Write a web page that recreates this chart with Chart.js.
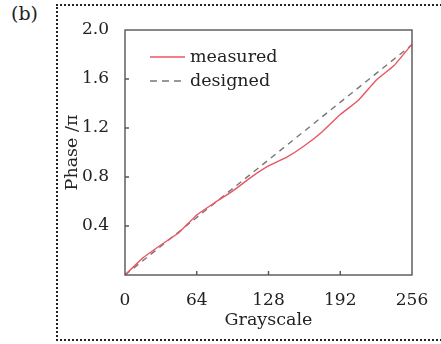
<!DOCTYPE html>
<html>
<head>
<meta charset="utf-8">
<script src="https://cdn.jsdelivr.net/npm/chart.js@4.4.1/dist/chart.umd.min.js"></script>
<style>
  html, body { margin: 0; padding: 0; background: #fff; overflow: hidden; }
  #wrap { position: relative; width: 441px; height: 344px; }
  #frame { position: absolute; left: 56px; top: 4px; width: 420px; height: 333px;
           border-top: 2px dotted #222; border-left: 2px dotted #222; border-bottom: 2px dotted #222; }
  #tag { position: absolute; left: 11px; top: 2px; font: 19px "DejaVu Serif", serif; color: #222; }
  canvas { position: absolute; left: 0; top: 0; }
</style>
</head>
<body>
<div id="wrap">
  <div id="frame"></div>
  <div id="tag">(b)</div>
  <canvas id="c" width="441" height="344"></canvas>
</div>
<script>
// ---- data ----
const grayscale = [0, 16, 32, 48, 64, 80, 96, 112, 128, 144, 160, 176, 192, 208, 224, 240, 256];
const measured  = [0, 0.14, 0.245, 0.345, 0.49, 0.59, 0.685, 0.795, 0.89, 0.96, 1.055, 1.17, 1.31, 1.425, 1.59, 1.71, 1.885];
const designedX = [0, 256];
const designed  = [0, 1.88];
const xTicks = [0, 64, 128, 192, 256];
const yTicks = [0.4, 0.8, 1.2, 1.6, 2.0];
const seriesNames = ['measured', 'designed'];
const axisTitles = { x: 'Grayscale', y: 'Phase /\u03c0' };

const FONT = '"DejaVu Serif", serif';
const TXT = '#222';
const AXIS = '#555';

const frameBox = {
  id: 'frameBox',
  afterDraw(chart) {
    const { ctx, chartArea: a, scales } = chart;
    ctx.save();
    ctx.strokeStyle = AXIS;
    ctx.lineWidth = 1.4;
    ctx.strokeRect(a.left, a.top, a.right - a.left, a.bottom - a.top);
    // inward ticks
    ctx.beginPath();
    xTicks.forEach(v => {
      if (v === 0 || v === 256) return;
      const px = scales.x.getPixelForValue(v);
      ctx.moveTo(px, a.bottom); ctx.lineTo(px, a.bottom - 4);
    });
    yTicks.forEach(v => {
      if (v >= 2.0) return;
      const py = scales.y.getPixelForValue(v);
      ctx.moveTo(a.left, py); ctx.lineTo(a.left + 4, py);
    });
    ctx.stroke();
    // legend inside plot
    const ds = chart.data.datasets;
    const lx = a.left + 25, ly0 = a.top + 27, gap = 24;
    ctx.font = '17.5px ' + FONT;
    ctx.textBaseline = 'middle';
    ds.forEach((d, i) => {
      const y = ly0 + i * gap;
      ctx.beginPath();
      ctx.strokeStyle = d.borderColor;
      ctx.lineWidth = d.borderWidth;
      ctx.setLineDash(d.borderDash ? [7, 5] : []);
      ctx.moveTo(lx, y); ctx.lineTo(lx + 35, y);
      ctx.stroke();
      ctx.setLineDash([]);
      ctx.fillStyle = TXT;
      ctx.fillText(d.label, lx + 40, y);
    });
    ctx.restore();
  }
};

new Chart(document.getElementById('c'), {
  type: 'scatter',
  data: {
    datasets: [
      {
        label: seriesNames[0],
        data: grayscale.map((g, i) => ({ x: g, y: measured[i] })),
        showLine: true, borderColor: '#ea5560', borderWidth: 1.4,
        pointRadius: 0, tension: 0.1
      },
      {
        label: seriesNames[1],
        data: designedX.map((g, i) => ({ x: g, y: designed[i] })),
        showLine: true, borderColor: '#777', borderWidth: 1.4, borderDash: [6, 5],
        pointRadius: 0
      }
    ]
  },
  options: {
    responsive: false,
    animation: false,
    devicePixelRatio: 1,
    layout: { padding: { top: 30, right: 29, left: 0, bottom: 0 } },
    plugins: { legend: { display: false }, tooltip: { enabled: false } },
    scales: {
      x: {
        type: 'linear', min: 0, max: 256,
        afterBuildTicks(s) { s.ticks = xTicks.map(v => ({ value: v })); },
        afterFit(s) { s.height = 69; },
        grid: { display: false },
        border: { display: false },
        ticks: { color: TXT, font: { family: FONT, size: 17 }, padding: 7, maxRotation: 0,
                 callback: v => String(v) },
        title: { display: true, text: axisTitles.x, color: TXT,
                 font: { family: FONT, size: 17.5 }, padding: { top: 0, bottom: 13 } }
      },
      y: {
        type: 'linear', min: 0, max: 2.0,
        afterBuildTicks(s) { s.ticks = yTicks.map(v => ({ value: v })); },
        afterFit(s) { s.width = 125; },
        grid: { display: false },
        border: { display: false },
        ticks: { color: TXT, font: { family: FONT, size: 17 }, padding: 8,
                 callback: v => v.toFixed(1) },
        title: { display: true, text: axisTitles.y, color: TXT,
                 font: { family: FONT, size: 17.5 }, padding: { top: 62, bottom: 0 } }
      }
    }
  },
  plugins: [frameBox]
});
</script>
</body>
</html>
